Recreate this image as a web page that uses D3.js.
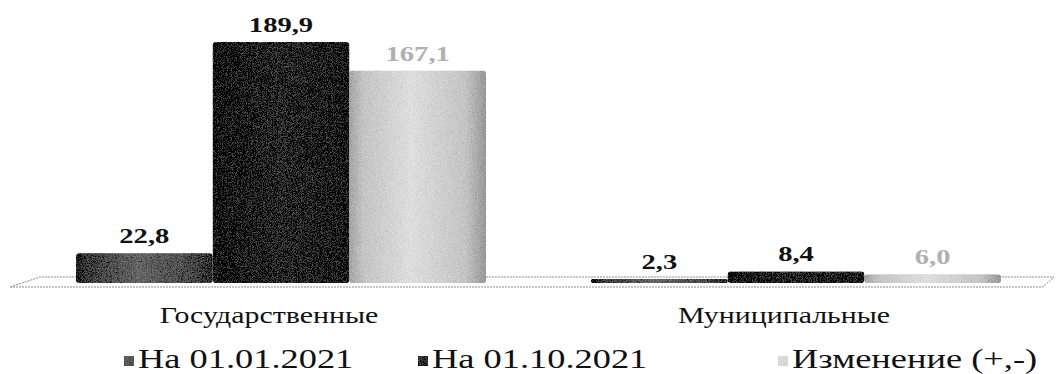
<!DOCTYPE html>
<html><head><meta charset="utf-8">
<script src="https://cdn.jsdelivr.net/npm/d3@7"></script>
<style>body{margin:0;background:#fff}svg{display:block}</style>
</head><body>
<script>
const categories = ["Государственные", "Муниципальные"];
const seriesNames = ["На 01.01.2021", "На 01.10.2021", "Изменение (+,-)"];
const seriesValues = [
  [22.8, 2.3],
  [189.9, 8.4],
  [167.1, 6.0]
];
const valueLabels = [
  ["22,8", "2,3"],
  ["189,9", "8,4"],
  ["167,1", "6,0"]
];

const W = 1056, H = 374;
const svg = d3.select("body").append("svg").attr("width", W).attr("height", H);
const defs = svg.append("defs");

// grain filter
const f = defs.append("filter").attr("id", "grain").attr("x", 0).attr("y", 0).attr("width", 1).attr("height", 1);
f.append("feTurbulence").attr("type", "fractalNoise").attr("baseFrequency", 1.2).attr("numOctaves", 1).attr("seed", 3).attr("result", "n");
f.append("feColorMatrix").attr("in", "n").attr("type", "matrix")
  .attr("values", "0.33 0.33 0.33 0 0  0.33 0.33 0.33 0 0  0.33 0.33 0.33 0 0  0 0 0 0 1").attr("result", "g");
f.append("feComposite").attr("in", "SourceGraphic").attr("in2", "g").attr("operator", "arithmetic")
  .attr("k1", 0).attr("k2", 1).attr("k3", 0.6).attr("k4", -0.3).attr("result", "c");
f.append("feComposite").attr("in", "c").attr("in2", "SourceAlpha").attr("operator", "in");

const gradStops = [
  [["0", "#151515"], ["0.07", "#3a3a3a"], ["0.45", "#666"], ["0.85", "#4a4a4a"], ["1", "#2c2c2c"]],
  [["0", "#000"], ["0.1", "#121212"], ["0.5", "#2a2a2a"], ["0.9", "#181818"], ["1", "#0a0a0a"]],
  [["0", "#a4a4a4"], ["0.1", "#c4c4c4"], ["0.45", "#dedede"], ["0.85", "#c4c4c4"], ["1", "#989898"]]
];
gradStops.forEach((st, i) => {
  const g = defs.append("linearGradient").attr("id", "g" + i).attr("x1", 0).attr("x2", 1).attr("y1", 0).attr("y2", 0);
  st.forEach(s => g.append("stop").attr("offset", s[0]).attr("stop-color", s[1]));
});
const legendColors = ["#5a5a5a", "#333", "#d8d8d8"];
const labelColors = ["#111", "#111", "#b0b0b0"];

const x0 = d3.scaleBand().domain(categories).range([76, 1001]).paddingInner(105 / 515).paddingOuter(0);
const x1 = d3.scaleBand().domain(d3.range(seriesNames.length)).range([0, x0.bandwidth()]);
const y = d3.scaleLinear().domain([0, 200]).range([283, 30.3]);

// floor
svg.append("path")
  .attr("d", "M10,287 L1043,287 L1054,277 L40,277 Z")
  .attr("fill", "#fff").attr("stroke", "#8a8a8a").attr("stroke-width", 1).attr("stroke-dasharray", "2,1");

const data = [];
seriesValues.forEach((vals, s) => vals.forEach((v, c) => data.push({ s, c, v, label: valueLabels[s][c] })));

svg.append("g").selectAll("rect").data(data).join("rect")
  .attr("x", d => x0(categories[d.c]) + x1(d.s))
  .attr("y", d => y(d.v) - 1)
  .attr("width", x1.bandwidth())
  .attr("height", d => y(0) - y(d.v) + 1)
  .attr("rx", d => Math.min(3, (y(0) - y(d.v)) / 2))
  .attr("fill", d => `url(#g${d.s})`)
  .attr("filter", "url(#grain)");

const serif = "'Liberation Serif','Times New Roman',serif";

svg.append("g").selectAll("text").data(data).join("text")
  .attr("transform", d => `translate(${x0(categories[d.c]) + x1(d.s) + x1.bandwidth() / 2},${y(d.v) - 11}) scale(1.3,1)`)
  .attr("text-anchor", "middle")
  .attr("font-family", serif).attr("font-weight", "bold").attr("font-size", 22)
  .attr("fill", d => labelColors[d.s])
  .text(d => d.label);

// category axis labels
svg.append("g").selectAll("text").data(categories).join("text")
  .attr("transform", d => `translate(${x0(d) + x0.bandwidth() / 2 - 12},323) scale(1.3,1)`)
  .attr("text-anchor", "middle")
  .attr("font-family", serif).attr("font-size", 23).attr("fill", "#111")
  .text(d => d);

// legend
const legendX = [124, 418, 778];
const lg = svg.append("g").selectAll("g").data(seriesNames).join("g")
  .attr("transform", (d, i) => `translate(${legendX[i]},0)`);
lg.append("rect").attr("x", 0).attr("y", 356).attr("width", 10).attr("height", 10)
  .attr("fill", (d, i) => legendColors[i]).attr("filter", "url(#grain)");
lg.append("text")
  .attr("transform", "translate(14,368) scale(1.3,1)")
  .attr("font-family", serif).attr("font-size", 28).attr("fill", "#111")
  .text(d => d);
</script>
</body></html>
